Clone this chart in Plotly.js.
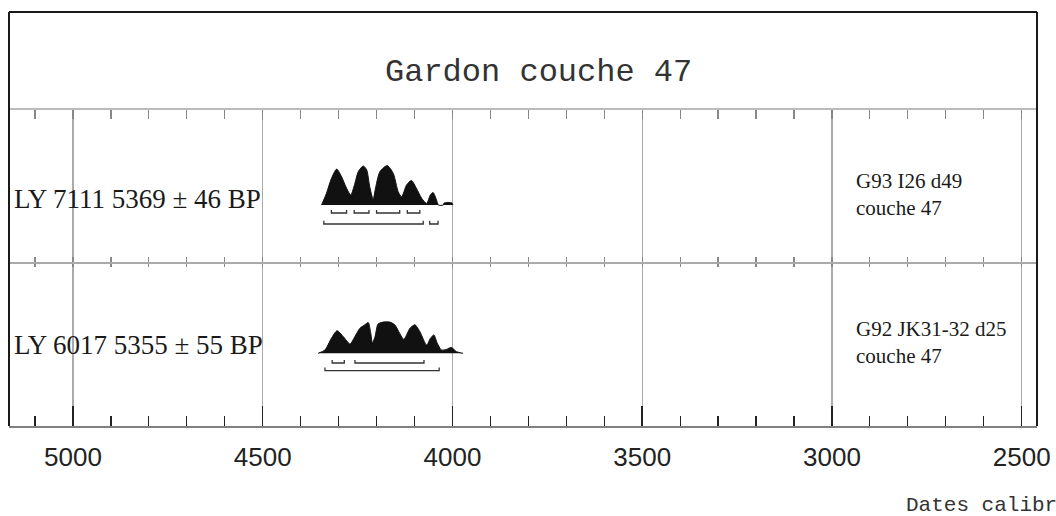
<!DOCTYPE html>
<html>
<head>
<meta charset="utf-8">
<script src="https://cdn.plot.ly/plotly-3.0.1.min.js"></script>
<style>
  html, body { margin: 0; padding: 0; background: #ffffff; }
  #chart { width: 1056px; height: 516px; }
</style>
</head>
<body>
<div id="chart"></div>
<script>
// ---------------- data ----------------
const chartTitle = "Gardon couche 47";
const axisCaption = "Dates calibrées";
const majorTicks = [5000, 4500, 4000, 3500, 3000, 2500];
const tickLabels = ["5000", "4500", "4000", "3500", "3000", "2500"];

const sampleLabels = ["LY 7111 5369 ± 46 BP", "LY 6017 5355 ± 55 BP"];
const sampleNotes = ["G93 I26 d49<br>couche 47", "G92 JK31-32 d25<br>couche 47"];

// sample 1 : LY 7111 — calibrated probability (relative)
const years1 = [4345, 4332, 4319, 4305, 4292, 4279, 4268, 4257, 4248, 4235, 4226, 4218, 4209, 4202, 4191, 4172, 4156, 4143, 4134, 4121, 4108, 4095, 4081, 4068, 4058, 4051, 4042, 4037, 4024, 4022, 4001, 3999];
const prob1  = [0, 0.30, 0.68, 0.92, 0.72, 0.43, 0.26, 0.56, 0.86, 1.00, 0.90, 0.47, 0.15, 0.47, 0.86, 1.01, 0.81, 0.34, 0.21, 0.51, 0.63, 0.43, 0.17, 0.04, 0.26, 0.32, 0.13, 0, 0, 0.05, 0.05, 0];
const oneSigma1 = [[4319, 4279], [4259, 4220], [4200, 4139], [4119, 4086]];
const twoSigma1 = [[4339, 4077], [4060, 4038]];

// sample 2 : LY 6017 — calibrated probability (relative)
const years2 = [4354, 4336, 4319, 4304, 4288, 4270, 4257, 4244, 4231, 4222, 4216, 4211, 4204, 4196, 4183, 4165, 4152, 4139, 4128, 4112, 4099, 4086, 4068, 4058, 4049, 4040, 4029, 4016, 4003, 3989, 3972];
const prob2  = [0, 0.085, 0.385, 0.58, 0.43, 0.24, 0.43, 0.64, 0.73, 0.79, 0.56, 0.27, 0.43, 0.75, 0.80, 0.80, 0.73, 0.51, 0.36, 0.64, 0.73, 0.56, 0.21, 0.385, 0.47, 0.26, 0.085, 0.10, 0.15, 0.04, 0];
const oneSigma2 = [[4317, 4285], [4257, 4075]];
const twoSigma2 = [[4336, 4035]];

// ---------------- drawing ----------------
const xRange = [5168.6, 2459.6];
const INK = "#111111";

function bracketTrace(intervals, level, hook, xa, ya) {
  const xs = [], ys = [];
  intervals.forEach(function (iv) {
    xs.push(iv[0], iv[0], iv[1], iv[1], null);
    ys.push(level + hook, level, level, level + hook, null);
  });
  return {
    type: "scatter", mode: "lines", x: xs, y: ys, xaxis: xa, yaxis: ya,
    line: { color: "#333", width: 1.3 }, hoverinfo: "skip", showlegend: false
  };
}

function distTrace(xs, ys, xa, ya) {
  return {
    type: "scatter", mode: "lines", x: xs, y: ys, xaxis: xa, yaxis: ya,
    fill: "tozeroy", fillcolor: INK,
    line: { color: INK, width: 1, shape: "spline", smoothing: 0.7 },
    hoverinfo: "skip", showlegend: false
  };
}

const traces = [
  distTrace(years1, prob1, "x2", "y2"),
  bracketTrace(oneSigma1, -0.205, 0.08, "x2", "y2"),
  bracketTrace(twoSigma1, -0.487, 0.08, "x2", "y2"),
  distTrace(years2, prob2, "x", "y"),
  bracketTrace(oneSigma2, -0.249, 0.08, "x", "y"),
  bracketTrace(twoSigma2, -0.444, 0.08, "x", "y"),
  { type: "scatter", mode: "lines", x: [], y: [], xaxis: "x3", yaxis: "y2", showlegend: false, hoverinfo: "skip" },
  { type: "scatter", mode: "lines", x: [], y: [], xaxis: "x4", yaxis: "y", showlegend: false, hoverinfo: "skip" }
];

const hiddenY = { showgrid: false, zeroline: false, showticklabels: false, showline: false, ticks: "", fixedrange: true };
const split = 164 / 316;

const layout = {
  width: 1056, height: 516,
  margin: { l: 9, r: 19, t: 110, b: 90, pad: 0 },
  paper_bgcolor: "#ffffff", plot_bgcolor: "#ffffff",
  showlegend: false,
  xaxis: {
    anchor: "y", side: "bottom", range: xRange, fixedrange: true,
    tickmode: "array", tickvals: majorTicks, ticktext: tickLabels,
    ticks: "inside", ticklen: 20, tickwidth: 1.5, tickcolor: "#222",
    minor: { dtick: 100, tick0: 0, ticks: "inside", ticklen: 10, tickwidth: 1.2, tickcolor: "#222", showgrid: false },
    showgrid: true, gridcolor: "#aaaaaa", gridwidth: 1.3,
    showline: true, linecolor: "#808080", linewidth: 2,
    zeroline: false,
    tickfont: { family: "Liberation Sans, Arial, sans-serif", size: 26, color: "#222" },
    ticklabelstandoff: 7
  },
  xaxis2: {
    anchor: "y2", side: "top", range: xRange, fixedrange: true,
    tickmode: "array", tickvals: majorTicks,
    ticks: "inside", ticklen: 9, tickwidth: 1.2, tickcolor: "#888",
    minor: { dtick: 100, tick0: 0, ticks: "inside", ticklen: 9, tickwidth: 1.2, tickcolor: "#888", showgrid: false },
    showgrid: true, gridcolor: "#aaaaaa", gridwidth: 1.3,
    showline: true, linecolor: "#bbbbbb", linewidth: 2,
    showticklabels: false, zeroline: false
  },
  xaxis3: {
    anchor: "y2", side: "bottom", overlaying: "x2", range: xRange, fixedrange: true,
    tickmode: "array", tickvals: majorTicks,
    ticks: "inside", ticklen: 5, tickwidth: 1.2, tickcolor: "#888",
    minor: { dtick: 100, tick0: 0, ticks: "inside", ticklen: 5, tickwidth: 1.2, tickcolor: "#888", showgrid: false },
    showgrid: false, showline: true, linecolor: "#aaaaaa", linewidth: 1.5,
    showticklabels: false, zeroline: false
  },
  xaxis4: {
    anchor: "y", side: "top", overlaying: "x", range: xRange, fixedrange: true,
    tickmode: "array", tickvals: majorTicks,
    ticks: "inside", ticklen: 5, tickwidth: 1.2, tickcolor: "#888",
    minor: { dtick: 100, tick0: 0, ticks: "inside", ticklen: 5, tickwidth: 1.2, tickcolor: "#888", showgrid: false },
    showgrid: false, showline: false,
    showticklabels: false, zeroline: false
  },
  yaxis: Object.assign({ domain: [0, split], range: [-72.7 / 39, 91.3 / 39] }, hiddenY),
  yaxis2: Object.assign({ domain: [split, 1], range: [-57 / 39, 95 / 39] }, hiddenY),
  shapes: [
    { type: "line", xref: "paper", yref: "paper", x0: 0, x1: 1, y0: 1.31, y1: 1.31, line: { color: "#1a1a1a", width: 2 } },
    { type: "line", xref: "paper", yref: "paper", x0: 0, x1: 0, y0: 0, y1: 1.31, line: { color: "#1a1a1a", width: 2 } },
    { type: "line", xref: "paper", yref: "paper", x0: 1, x1: 1, y0: 0, y1: 1.31, line: { color: "#1a1a1a", width: 2 } }
  ],
  annotations: [
    { text: chartTitle, xref: "paper", yref: "paper", x: 0.5146, y: 1.12, xanchor: "center", yanchor: "middle", showarrow: false,
      font: { family: "Liberation Mono, Courier New, monospace", size: 32, color: "#333" } },
    { text: sampleLabels[0], xref: "paper", yref: "paper", x: 0.0029, y: 0.718, xanchor: "left", yanchor: "middle", showarrow: false,
      font: { family: "Liberation Serif, Times New Roman, serif", size: 27, color: "#1a1a1a" } },
    { text: sampleLabels[1], xref: "paper", yref: "paper", x: 0.0029, y: 0.256, xanchor: "left", yanchor: "middle", showarrow: false,
      font: { family: "Liberation Serif, Times New Roman, serif", size: 27, color: "#1a1a1a" } },
    { text: sampleNotes[0], xref: "paper", yref: "paper", x: 0.8219, y: 0.7326, xanchor: "left", yanchor: "middle", align: "left", showarrow: false,
      font: { family: "Liberation Serif, Times New Roman, serif", size: 21, color: "#1a1a1a" } },
    { text: sampleNotes[1], xref: "paper", yref: "paper", x: 0.8219, y: 0.2642, xanchor: "left", yanchor: "middle", align: "left", showarrow: false,
      font: { family: "Liberation Serif, Times New Roman, serif", size: 21, color: "#1a1a1a" } },
    { text: axisCaption, xref: "paper", yref: "paper", x: 0.8702, y: -0.25, xanchor: "left", yanchor: "middle", showarrow: false,
      font: { family: "Liberation Mono, Courier New, monospace", size: 21, color: "#333" } }
  ]
};

Plotly.newPlot("chart", traces, layout, { staticPlot: true, displayModeBar: false });
</script>
</body>
</html>
